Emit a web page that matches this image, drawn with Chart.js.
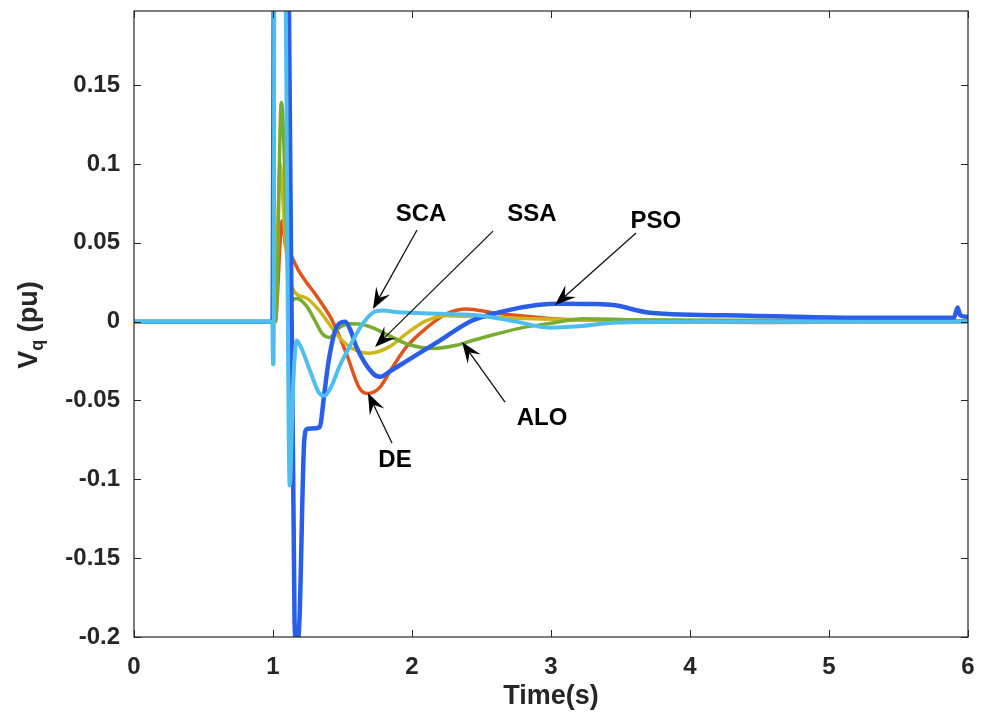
<!DOCTYPE html>
<html>
<head>
<meta charset="utf-8">
<script src="https://cdn.jsdelivr.net/npm/chart.js@4.4.1/dist/chart.umd.min.js"></script>
<style>
  html, body { margin: 0; padding: 0; background: #fff; }
  #wrap { width: 991px; height: 716px; }
</style>
</head>
<body>
<div id="wrap"><canvas id="chart" width="991" height="716"></canvas></div>
<script>
// tick labels
const xTicks = [0, 1, 2, 3, 4, 5, 6];
const yTicks = [-0.2, -0.15, -0.1, -0.05, 0, 0.05, 0.1, 0.15];

// PSO (blue)
const psoT = [0, 0.996, 1.01, 1.1, 1.11, 1.155, 1.17, 1.19, 1.225, 1.245, 1.335, 1.37, 1.4, 1.46, 1.52, 1.56, 1.6, 1.72, 1.77, 1.85, 1.96, 2.2, 2.43, 2.68, 2.9, 3.06, 3.3, 3.45, 3.71, 4.43, 5.15, 5.9, 5.925, 5.945, 6.0];
const psoV = [0, 0, 0.3, 0.3, 0.25, -0.19, -0.205, -0.19, -0.075, -0.068, -0.067, -0.045, -0.025, -0.003, 0.0, -0.006, -0.016, -0.033, -0.035, -0.031, -0.025, -0.012, 0.0006, 0.007, 0.0105, 0.0114, 0.0112, 0.0105, 0.0057, 0.0038, 0.0025, 0.0025, 0.009, 0.004, 0.003];

// SCA (light blue)
const scaT = [0, 0.995, 1.0, 1.004, 1.012, 1.085, 1.12, 1.145, 1.17, 1.2, 1.27, 1.33, 1.37, 1.42, 1.48, 1.55, 1.64, 1.72, 1.79, 1.9, 2.2, 2.5, 2.75, 2.99, 3.2, 3.47, 4.0, 5.0, 6.0];
const scaV = [0, 0, -0.027, -0.027, 0.3, 0.25, -0.104, -0.04, -0.012, -0.016, -0.032, -0.045, -0.047, -0.041, -0.028, -0.016, -0.002, 0.0057, 0.007, 0.006, 0.005, 0.0038, 0.0, -0.0038, -0.003, -0.0006, 0, 0, 0];

// DE (orange)
const deT = [0, 1.0, 1.015, 1.066, 1.09, 1.13, 1.18, 1.24, 1.3, 1.354, 1.427, 1.527, 1.621, 1.679, 1.765, 1.859, 1.96, 2.104, 2.248, 2.392, 2.579, 2.8, 2.99, 3.3, 3.7, 4.5, 6.0];
const deV = [0, 0, 0, 0.064, 0.048, 0.042, 0.033, 0.025, 0.018, 0.011, 0.0006, -0.02, -0.042, -0.0456, -0.042, -0.029, -0.016, -0.004, 0.005, 0.008, 0.0057, 0.0035, 0.002, 0.0008, 0, -0.0005, 0];

// SSA (yellow)
const ssaT = [0, 1.0, 1.015, 1.05, 1.09, 1.138, 1.239, 1.333, 1.477, 1.571, 1.693, 1.837, 1.96, 2.104, 2.248, 2.5, 2.8, 3.2, 3.6, 4.5, 6.0];
const ssaV = [0, 0, 0, 0.1, 0.05, 0.0215, 0.015, 0.007, -0.01, -0.017, -0.02, -0.016, -0.0076, 0.0006, 0.0038, 0.003, 0.002, 0.001, 0.0005, 0, 0];

// ALO (green)
const aloT = [0, 1.0, 1.02, 1.06, 1.125, 1.135, 1.17, 1.24, 1.3, 1.354, 1.405, 1.477, 1.549, 1.62, 1.715, 1.837, 1.96, 2.147, 2.32, 2.435, 2.6, 2.795, 3.0, 3.23, 3.6, 4.5, 6.0];
const aloV = [0, 0, 0, 0.139, -0.001, 0.013, 0.0146, 0.01, 0.001, -0.0076, -0.01, -0.0038, -0.0013, -0.0015, -0.0038, -0.009, -0.014, -0.017, -0.015, -0.012, -0.008, -0.0038, -0.001, 0.0019, 0.0012, 0.0008, 0.0005];

// arrow labels
const annText = ['SCA', 'SSA', 'PSO', 'ALO', 'DE'];
const annTextX = [2.065, 2.863, 3.755, 2.935, 1.878];
const annTextY = [0.0681, 0.0681, 0.0638, -0.0611, -0.0877];
const annTailX = [2.036, 2.583, 3.612, 2.669, 1.856];
const annTailY = [0.0581, 0.0574, 0.0562, -0.0510, -0.0770];
const annTipX = [1.719, 1.734, 3.029, 2.360, 1.683];
const annTipY = [0.0080, -0.0161, 0.0105, -0.0129, -0.0453];

const font = '"Liberation Sans", Arial, Helvetica, sans-serif';
const ink = '#262626';

function pts(ts, vs) {
    return ts.map((t, i) => ({ x: t, y: vs[i] }));
}

function line(label, ts, vs, color, width) {
    return {
        label: label,
        data: pts(ts, vs),
        borderColor: color,
        borderWidth: width,
        pointRadius: 0,
        fill: false,
        cubicInterpolationMode: 'monotone',
        borderJoinStyle: 'round',
        borderCapStyle: 'round'
    };
}

function drawArrow(ctx, x0, y0, x1, y1) {
    const dx = x1 - x0, dy = y1 - y0;
    const len = Math.sqrt(dx * dx + dy * dy);
    const ux = dx / len, uy = dy / len;
    const nx = -uy, ny = ux;
    const L = 21, W = 16;
    const bx = x1 - ux * L, by = y1 - uy * L;
    const mx = x1 - ux * L * 0.62, my = y1 - uy * L * 0.62;

    ctx.beginPath();
    ctx.moveTo(x0, y0);
    ctx.lineTo(mx, my);
    ctx.lineWidth = 1.3;
    ctx.strokeStyle = '#111';
    ctx.stroke();

    ctx.beginPath();
    ctx.moveTo(x1, y1);
    ctx.lineTo(bx + nx * W / 2, by + ny * W / 2);
    ctx.lineTo(mx, my);
    ctx.lineTo(bx - nx * W / 2, by - ny * W / 2);
    ctx.closePath();
    ctx.fillStyle = '#000';
    ctx.fill();
}

const framePlugin = {
    id: 'frame',
    afterDatasetsDraw(chart) {
        const ctx = chart.ctx;
        const a = chart.chartArea;
        const xs = chart.scales.x, ys = chart.scales.y;
        ctx.save();

        // arrows + labels
        ctx.font = 'bold 24px ' + font;
        ctx.fillStyle = '#000';
        ctx.textAlign = 'center';
        ctx.textBaseline = 'middle';
        annText.forEach((txt, i) => {
            drawArrow(ctx,
                xs.getPixelForValue(annTailX[i]), ys.getPixelForValue(annTailY[i]),
                xs.getPixelForValue(annTipX[i]), ys.getPixelForValue(annTipY[i]));
            ctx.fillText(txt, xs.getPixelForValue(annTextX[i]), ys.getPixelForValue(annTextY[i]));
        });

        // box and inner ticks, matlab style
        ctx.strokeStyle = ink;
        ctx.lineWidth = 1.2;
        ctx.strokeRect(a.left, a.top, a.right - a.left, a.bottom - a.top);
        ctx.beginPath();
        xTicks.forEach(v => {
            const px = Math.round(xs.getPixelForValue(v)) + 0.5;
            ctx.moveTo(px, a.bottom); ctx.lineTo(px, a.bottom - 7);
            ctx.moveTo(px, a.top); ctx.lineTo(px, a.top + 7);
        });
        yTicks.forEach(v => {
            const py = Math.round(ys.getPixelForValue(v)) + 0.5;
            ctx.moveTo(a.left, py); ctx.lineTo(a.left + 7, py);
            ctx.moveTo(a.right, py); ctx.lineTo(a.right - 7, py);
        });
        ctx.lineWidth = 1;
        ctx.stroke();

        // axis titles
        ctx.fillStyle = ink;
        ctx.font = 'bold 27px ' + font;
        ctx.textAlign = 'center';
        ctx.textBaseline = 'middle';
        ctx.fillText('Time(s)', (a.left + a.right) / 2, 697);

        ctx.translate(27, 325);
        ctx.rotate(-Math.PI / 2);
        ctx.textAlign = 'left';
        ctx.textBaseline = 'alphabetic';
        const big = 'bold 27px ' + font, small = 'bold 18px ' + font;
        ctx.font = big;
        const w1 = ctx.measureText('V').width;
        const w3 = ctx.measureText(' (pu)').width;
        ctx.font = small;
        const w2 = ctx.measureText('q').width;
        let x = -(w1 + w2 + w3) / 2;
        ctx.font = big;
        ctx.fillText('V', x, 10);
        x += w1;
        ctx.font = small;
        ctx.fillText('q', x, 16);
        x += w2;
        ctx.font = big;
        ctx.fillText(' (pu)', x, 10);

        ctx.restore();
    }
};

function initChart() {
    const ctx = document.getElementById('chart').getContext('2d');
    new Chart(ctx, {
        type: 'line',
        data: {
            datasets: [
                line('SCA', scaT, scaV, '#4dbeee', 4),
                line('PSO', psoT, psoV, '#2a5ee8', 4.5),
                line('ALO', aloT, aloV, '#77ac30', 3.5),
                line('SSA', ssaT, ssaV, '#cdb61c', 3.5),
                line('DE', deT, deV, '#e0541c', 3.5)
            ]
        },
        options: {
            responsive: false,
            animation: false,
            layout: { padding: { left: 0, right: 23, top: 11, bottom: 0 } },
            plugins: {
                legend: { display: false },
                tooltip: { enabled: false }
            },
            scales: {
                x: {
                    type: 'linear',
                    min: 0,
                    max: 6,
                    grid: { display: false, drawTicks: false },
                    border: { display: false },
                    afterBuildTicks: s => { s.ticks = xTicks.map(v => ({ value: v })); },
                    afterFit: s => { s.height = 79; s.paddingLeft = 0; s.paddingRight = 0; },
                    ticks: {
                        padding: 16,
                        color: ink,
                        maxRotation: 0,
                        font: { family: font, size: 24, weight: 'bold' },
                        callback: v => String(v)
                    }
                },
                y: {
                    type: 'linear',
                    min: -0.2,
                    max: 0.197,
                    grid: { display: false, drawTicks: false },
                    border: { display: false },
                    afterBuildTicks: s => { s.ticks = yTicks.map(v => ({ value: v })); },
                    afterFit: s => { s.width = 134; s.paddingTop = 0; s.paddingBottom = 0; },
                    ticks: {
                        padding: 14,
                        color: ink,
                        font: { family: font, size: 24, weight: 'bold' },
                        callback: v => String(v)
                    }
                }
            }
        },
        plugins: [framePlugin]
    });
}

document.addEventListener('DOMContentLoaded', initChart);
</script>
</body>
</html>
